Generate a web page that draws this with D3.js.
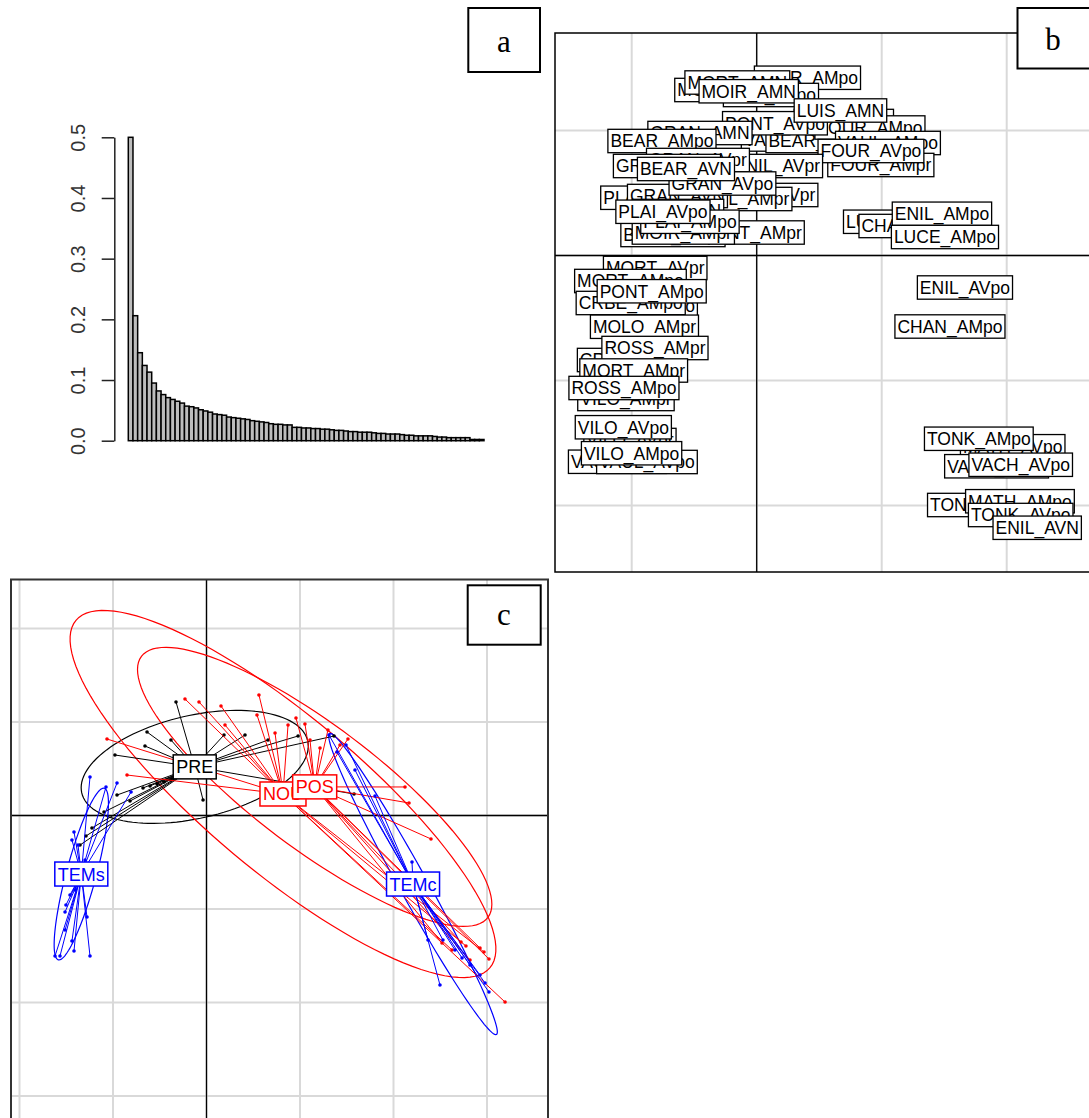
<!DOCTYPE html>
<html><head><meta charset="utf-8">
<script src="https://cdn.jsdelivr.net/npm/d3@7"></script>
<style>body{margin:0;background:#fff}svg{display:block}</style>
</head><body>
<svg id="chart" width="1089" height="1118"></svg>
<script>
// ---------- Panel a: eigenvalues ----------
const eigenValues = [0.500,0.206,0.145,0.124,0.113,0.095,0.082,0.076,0.071,0.068,
 0.065,0.062,0.057,0.056,0.054,0.051,0.049,0.047,0.044,0.043,
 0.042,0.039,0.038,0.037,0.036,0.035,0.033,0.032,0.031,0.030,
 0.028,0.027,0.027,0.026,0.026,0.022,0.022,0.021,0.021,0.020,
 0.020,0.019,0.019,0.018,0.017,0.017,0.016,0.015,0.015,0.014,
 0.014,0.014,0.013,0.012,0.012,0.011,0.011,0.011,0.010,0.009,
 0.009,0.008,0.008,0.008,0.008,0.007,0.006,0.006,0.005,0.005,
 0.005,0.005,0.005,0.002,0.002,0.002];
const eigenTicks = [0, 0.1, 0.2, 0.3, 0.4, 0.5];
const eigenTickLabels = ["0.0","0.1","0.2","0.3","0.4","0.5"];

// ---------- Panel b: row labels (factorial map), in drawing order ----------
const bNames = ["MOLO_AMN","MOIR_AMpo","MORT_AMN","LUIS_AVpo","MOIR_AMN","VAUL_AVpr","BEAR_AVpr","LUIS_AMpo",
 "FOUR_AMpo","VAUL_AMpo","PONT_AVpo","LUIS_AMN","FOUR_AMpr","FOUR_AVpo","GRAN_AMN","BEAR_AMpo",
 "MOLO_AVpr","VAUL_AMpr","ENIL_AVpr","GRAN_AVpr","GRAN_AMpr","PLAI_AMpr","GRAN_AVN","GRAN_AVpo","BEAR_AVN",
 "PONT_AMpr","BEAR_AMpr","MOIR_AMpr","PLAI_AMN","PLAI_AMpo","PLAI_AVpo",
 "LUCE_AVpo","CHAN_AVpr","ENIL_AMpo","LUCE_AMpo",
 "MORT_AVpr","MORT_AMpo","CRBE_AVpo","CRBE_AMpo","PONT_AMpo","MOLO_AMpr","CRBE_AMpr","ROSS_AMpr",
 "MORT_AMpr","VILO_AMpr","ROSS_AMpo","VILO_AVpr","VILO_AVpo","VAUL_AMN","VAUL_AVpo","VILO_AMpo",
 "ENIL_AVpo","CHAN_AMpo","MATH_AVpo","TONK_AMpo","VACH_AMpr","VACH_AVpo","TONK_AMpr","MATH_AMpo","TONK_AVpo","ENIL_AVN"];
const bX = [-0.235,0.406,-0.155,0.114,-0.064,0.264,0.474,0.697,
 0.906,1.050,0.146,0.670,0.993,0.914,-0.454,-0.758,
 0.074,-0.122,0.162,-0.470,-0.718,-0.870,-0.634,-0.274,-0.566,
 -0.040,-0.670,-0.587,-0.630,-0.534,-0.750,
 1.106,1.226,1.482,1.506,
 -0.812,-1.010,-0.894,-1.008,-0.840,-0.898,-1.014,-0.814,
 -0.984,-1.046,-1.062,-1.014,-1.067,-1.114,-0.878,-1.001,
 1.666,1.546,2.048,1.777,1.919,2.112,1.786,2.106,2.112,2.244];
const bY = [1.324,1.422,1.384,1.284,1.314,0.928,0.916,1.076,
 1.024,0.900,1.058,1.160,0.724,0.836,0.980,0.916,
 0.484,0.452,0.716,0.764,0.716,0.462,0.476,0.576,0.692,
 0.184,0.164,0.184,0.356,0.270,0.350,
 0.270,0.236,0.334,0.148,
 -0.100,-0.204,-0.404,-0.380,-0.286,-0.570,-0.836,-0.740,
 -0.920,-1.148,-1.060,-1.476,-1.374,-1.650,-1.652,-1.582,
 -0.256,-0.568,-1.526,-1.466,-1.686,-1.674,-1.996,-1.966,-2.076,-2.178];
const bGrid = [-2, -1, 0, 1, 2, 3];

// ---------- Panel c: classes (stars + ellipses) ----------
const cGroups = ["PRE","NOU","POS","TEMs","TEMc"];
const cCenterX = [-0.126, 0.818, 1.157, -1.339, 2.209];
const cCenterY = [0.520, 0.230, 0.306, -0.626, -0.733];
const cEllA = [1.24, 2.89, 2.32, 0.95, 1.84];
const cEllB = [0.55, 0.83, 0.66, 0.16, 0.15];
const cEllAngle = [13, -40, -37, 75, -61];
const preX = [-0.326,-0.636,-0.380,-0.658,-0.979,-0.037,0.187,0.412,0.658,-0.957,-0.818,-0.679,-0.604,-0.529,-0.455,-0.380,0.979,1.364,1.578,-1.289,-1.353,-1.225,-1.096];
const preY = [1.214,0.893,0.807,0.743,0.647,0.166,0.861,0.861,0.807,0.219,0.155,0.294,0.316,0.337,0.358,0.380,0.850,0.850,0.230,-0.219,-0.316,-0.134,0.037];
const nouX = [-0.230,-0.080,-1.064,-0.850,0.198,0.155,0.540,0.561,0.733,0.872,3.193,2.968,2.775,2.626];
const nouY = [1.246,1.214,0.818,0.433,0.968,1.171,1.075,1.289,0.882,0.968,-1.995,-1.460,-1.396,-1.439];
const posX = [1.299,1.513,1.053,0.957,1.428,2.123,2.166,2.401,2.925,3.021,2.722,2.519,1.107,1.214,2.818];
const posY = [0.914,0.818,0.979,1.043,0.754,0.305,0.134,-0.251,-1.417,-1.535,-1.353,-1.364,0.807,0.722,-1.545];
const temsX = [-1.246,-1.075,-0.957,-0.807,-1.417,-1.439,-1.374,-1.620,-1.567,-1.246,-1.417,-1.439,-1.513,-1.513,-1.503,-1.278,-1.460,-1.406,-1.299,-1.374];
const temsY = [0.412,0.305,0.348,0.251,-0.176,-0.262,-0.316,-1.503,-1.503,-1.503,-1.449,-1.342,-1.225,-1.032,-0.957,-1.086,-0.850,-0.797,-0.476,-0.690];
const temcX = [1.310,1.396,1.492,1.802,2.198,2.497,2.369,2.529,2.733,3.021,2.979,2.818,2.658,2.925,1.588];
const temcY = [0.861,0.679,0.754,0.209,-0.497,-1.813,-1.332,-1.332,-1.524,-1.888,-1.791,-1.599,-1.439,-1.706,0.487];
const cGrid = [-3, -2, -1, 0, 1, 2, 3, 4];

// ---------- drawing ----------
const SANS = "'Liberation Sans', Arial, sans-serif";
const SERIF = "'Liberation Serif', 'Times New Roman', serif";
const svg = d3.select("#chart");
const defs = svg.append("defs");

// Panel a
const xA = d3.scaleBand().domain(d3.range(eigenValues.length)).range([128.3, 484]).padding(0);
const yA = d3.scaleLinear().domain([0, 0.5]).range([440.7, 137.3]);
const gA = svg.append("g");
gA.selectAll("rect").data(eigenValues).join("rect")
  .attr("x", (d, i) => xA(i)).attr("y", d => yA(d))
  .attr("width", xA.bandwidth()).attr("height", d => yA(0) - yA(d))
  .attr("fill", "#bdbdbd").attr("stroke", "#000").attr("stroke-width", 1.5);
const axA = gA.append("g").attr("transform", "translate(114.3,0)")
  .call(d3.axisLeft(yA).tickValues(eigenTicks).tickFormat((d, i) => eigenTickLabels[i]).tickSize(12.6).tickSizeOuter(0));
axA.select(".domain").attr("stroke", "#222").attr("stroke-width", 1.5);
axA.selectAll(".tick line").attr("stroke", "#222").attr("stroke-width", 1.5);
axA.selectAll(".tick text").attr("x", 0).attr("y", 0).attr("dy", null)
  .attr("text-anchor", "middle").attr("transform", "translate(-29.3,0) rotate(-90)")
  .attr("font-family", SANS).attr("font-size", 20).attr("fill", "#333");

function letterBox(x0, y0, x1, y1, letter, tx, ty) {
  svg.append("rect").attr("x", x0).attr("y", y0).attr("width", x1 - x0).attr("height", y1 - y0)
    .attr("fill", "#fff").attr("stroke", "#000").attr("stroke-width", 2);
  svg.append("text").attr("x", tx).attr("y", ty).attr("text-anchor", "middle")
    .attr("font-family", SERIF).attr("font-size", 31).attr("fill", "#000").text(letter);
}

// Panel b
const xB = d3.scaleLinear().domain([0, 1]).range([756.7, 881.7]);
const yB = d3.scaleLinear().domain([0, 1]).range([255.5, 130.5]);
defs.append("clipPath").attr("id", "clipB").append("rect").attr("x", 555).attr("y", 33).attr("width", 560).attr("height", 539);
const gB = svg.append("g").attr("clip-path", "url(#clipB)");
gB.append("rect").attr("x", 555).attr("y", 33).attr("width", 560).attr("height", 539).attr("fill", "#fff");
gB.selectAll("line.gx").data(bGrid).join("line").attr("class", "gx")
  .attr("x1", d => xB(d)).attr("x2", d => xB(d)).attr("y1", 33).attr("y2", 572)
  .attr("stroke", "#d9d9d9").attr("stroke-width", 2);
gB.selectAll("line.gy").data(bGrid).join("line").attr("class", "gy")
  .attr("y1", d => yB(d)).attr("y2", d => yB(d)).attr("x1", 555).attr("x2", 1115)
  .attr("stroke", "#d9d9d9").attr("stroke-width", 2);
gB.append("line").attr("x1", xB(0)).attr("x2", xB(0)).attr("y1", 33).attr("y2", 572).attr("stroke", "#000").attr("stroke-width", 1.3);
gB.append("line").attr("y1", yB(0)).attr("y2", yB(0)).attr("x1", 555).attr("x2", 1115).attr("stroke", "#000").attr("stroke-width", 1.3);
bNames.forEach((name, i) => {
  const cx = xB(bX[i]), cy = yB(bY[i]);
  const g = gB.append("g");
  const r = g.append("rect");
  const t = g.append("text").attr("x", cx).attr("y", cy + 6.3).attr("text-anchor", "middle")
    .attr("font-family", SANS).attr("font-size", 17.5).attr("fill", "#000").text(name);
  const w = t.node().getComputedTextLength() + 5;
  r.attr("x", cx - w / 2).attr("y", cy - 11.7).attr("width", w).attr("height", 23.4)
    .attr("fill", "#fff").attr("stroke", "#000").attr("stroke-width", 1.3);
});
svg.append("rect").attr("x", 555).attr("y", 33).attr("width", 560).attr("height", 539)
  .attr("fill", "none").attr("stroke", "#000").attr("stroke-width", 1.5);

// Panel c
const xC = d3.scaleLinear().domain([0, 1]).range([206.5, 300]);
const yC = d3.scaleLinear().domain([0, 1]).range([815.5, 722]);
defs.append("clipPath").attr("id", "clipC").append("rect").attr("x", 11).attr("y", 579.5).attr("width", 537).attr("height", 560);
const gC = svg.append("g").attr("clip-path", "url(#clipC)");
gC.selectAll("line.gx").data(cGrid).join("line").attr("class", "gx")
  .attr("x1", d => xC(d)).attr("x2", d => xC(d)).attr("y1", 579).attr("y2", 1118)
  .attr("stroke", "#d9d9d9").attr("stroke-width", 2);
gC.selectAll("line.gy").data(cGrid).join("line").attr("class", "gy")
  .attr("y1", d => yC(d)).attr("y2", d => yC(d)).attr("x1", 11).attr("x2", 548)
  .attr("stroke", "#d9d9d9").attr("stroke-width", 2);
gC.append("line").attr("x1", xC(0)).attr("x2", xC(0)).attr("y1", 579).attr("y2", 1118).attr("stroke", "#000").attr("stroke-width", 1.3);
gC.append("line").attr("y1", yC(0)).attr("y2", yC(0)).attr("x1", 11).attr("x2", 548).attr("stroke", "#000").attr("stroke-width", 1.3);

const cColors = ["#000000", "#ff0000", "#ff0000", "#0000ff", "#0000ff"];
const cPX = [preX, nouX, posX, temsX, temcX];
const cPY = [preY, nouY, posY, temsY, temcY];
const lineGen = d3.line().x(d => xC(d[0])).y(d => yC(d[1])).curve(d3.curveLinearClosed);
cGroups.forEach((g, k) => {
  const th = cEllAngle[k] * Math.PI / 180;
  const pts = d3.range(0, 360, 3).map(t => {
    const r = t * Math.PI / 180;
    return [cCenterX[k] + cEllA[k] * Math.cos(r) * Math.cos(th) - cEllB[k] * Math.sin(r) * Math.sin(th),
            cCenterY[k] + cEllA[k] * Math.cos(r) * Math.sin(th) + cEllB[k] * Math.sin(r) * Math.cos(th)];
  });
  gC.append("path").attr("d", lineGen(pts)).attr("fill", "none").attr("stroke", cColors[k]).attr("stroke-width", 1.2);
});
cGroups.forEach((g, k) => {
  cPX[k].forEach((x, i) => {
    gC.append("line").attr("x1", xC(cCenterX[k])).attr("y1", yC(cCenterY[k]))
      .attr("x2", xC(x)).attr("y2", yC(cPY[k][i])).attr("stroke", cColors[k]).attr("stroke-width", 1);
    gC.append("circle").attr("cx", xC(x)).attr("cy", yC(cPY[k][i])).attr("r", 1.8).attr("fill", cColors[k]);
  });
});
cGroups.forEach((g, k) => {
  const cx = xC(cCenterX[k]), cy = yC(cCenterY[k]);
  const r = gC.append("rect");
  const t = gC.append("text").attr("x", cx).attr("y", cy + 6.5).attr("text-anchor", "middle")
    .attr("font-family", SANS).attr("font-size", 18).attr("fill", cColors[k]).text(g);
  const w = t.node().getComputedTextLength() + 6;
  r.attr("x", cx - w / 2).attr("y", cy - 12).attr("width", w).attr("height", 24)
    .attr("fill", "#fff").attr("stroke", cColors[k]).attr("stroke-width", 1.5);
});
svg.append("rect").attr("x", 11).attr("y", 579.5).attr("width", 537).attr("height", 560)
  .attr("fill", "none").attr("stroke", "#333").attr("stroke-width", 2);

letterBox(468.3, 8, 540, 72, "a", 504, 52);
letterBox(1017.5, 8, 1100, 68.5, "b", 1053, 50);
letterBox(467.7, 585.3, 540.7, 644.7, "c", 504, 625);
</script>
</body></html>
